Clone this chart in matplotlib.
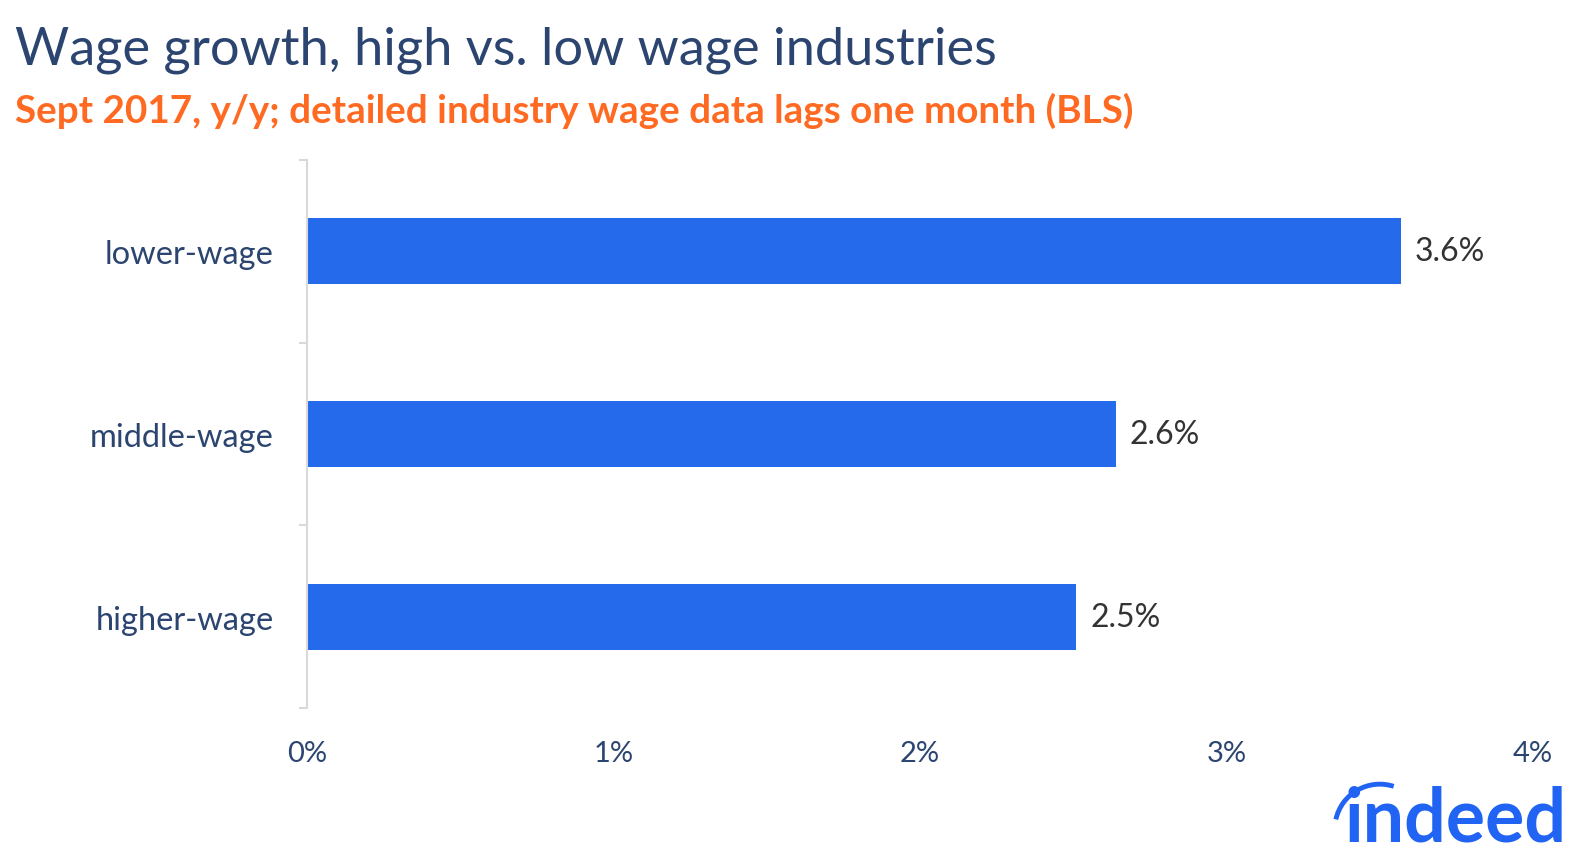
import matplotlib.pyplot as plt
from matplotlib.patches import Arc

categories = ['lower-wage', 'middle-wage', 'higher-wage']
growth = [3.57, 2.64, 2.51]
xticks = [0, 1, 2, 3, 4]
xtick_labels = ['0%', '1%', '2%', '3%', '4%']

title = 'Wage growth, high vs. low wage industries'
subtitle = 'Sept 2017, y/y; detailed industry wage data lags one month (BLS)'

navy = '#2b4570'
orange = '#ff6a22'
blue = '#266aec'
grey = '#d9d9d9'


def main():
    plt.rcParams['font.family'] = ['Lato', 'DejaVu Sans']
    fig = plt.figure(figsize=(15.78, 8.54), dpi=100)
    ax = fig.add_axes([0.1946, 0.1698, 0.7769, 0.6417])

    ypos = list(range(len(categories)))[::-1]
    ax.barh(ypos, growth, height=0.36, color=blue)
    for y, v in zip(ypos, growth):
        ax.text(v + 0.045, y, f'{v:.1f}%', va='center', ha='left',
                fontsize=23, color='#333333')

    ax.set_xlim(0, 4)
    ax.set_ylim(-0.5, 2.5)
    ax.set_xticks(xticks)
    ax.set_xticklabels(xtick_labels, fontsize=21, color=navy)
    ax.set_yticks(ypos)
    ax.set_yticklabels(categories, fontsize=23.5, color=navy)
    ax.set_yticks([-0.5, 0.5, 1.5, 2.5], minor=True)
    ax.tick_params(axis='x', length=0, pad=23)
    ax.tick_params(axis='y', which='major', length=0, pad=24)
    ax.tick_params(axis='y', which='minor', length=6, width=1.5, color=grey)

    for s in ['top', 'right', 'bottom']:
        ax.spines[s].set_visible(False)
    ax.spines['left'].set_color(grey)
    ax.spines['left'].set_linewidth(1.5)

    fig.text(0.0095, 0.941, title, fontsize=37.7, color=navy,
             va='center', ha='left')
    fig.text(0.0095, 0.87, subtitle, fontsize=27.8, color=orange, weight='bold',
             va='center', ha='left')

    # indeed logo
    fig.text(0.993, 0.015, 'indeed', fontsize=53, color='#2164f3',
             weight='bold', ha='right', va='baseline')
    arc = Arc((0.8744, 0.0281), 0.057, 0.105, theta1=80, theta2=158,
              transform=fig.transFigure, color='#2164f3', lw=3.5)
    fig.add_artist(arc)

    plt.savefig('out.png', dpi=100)


if __name__ == '__main__':
    main()
